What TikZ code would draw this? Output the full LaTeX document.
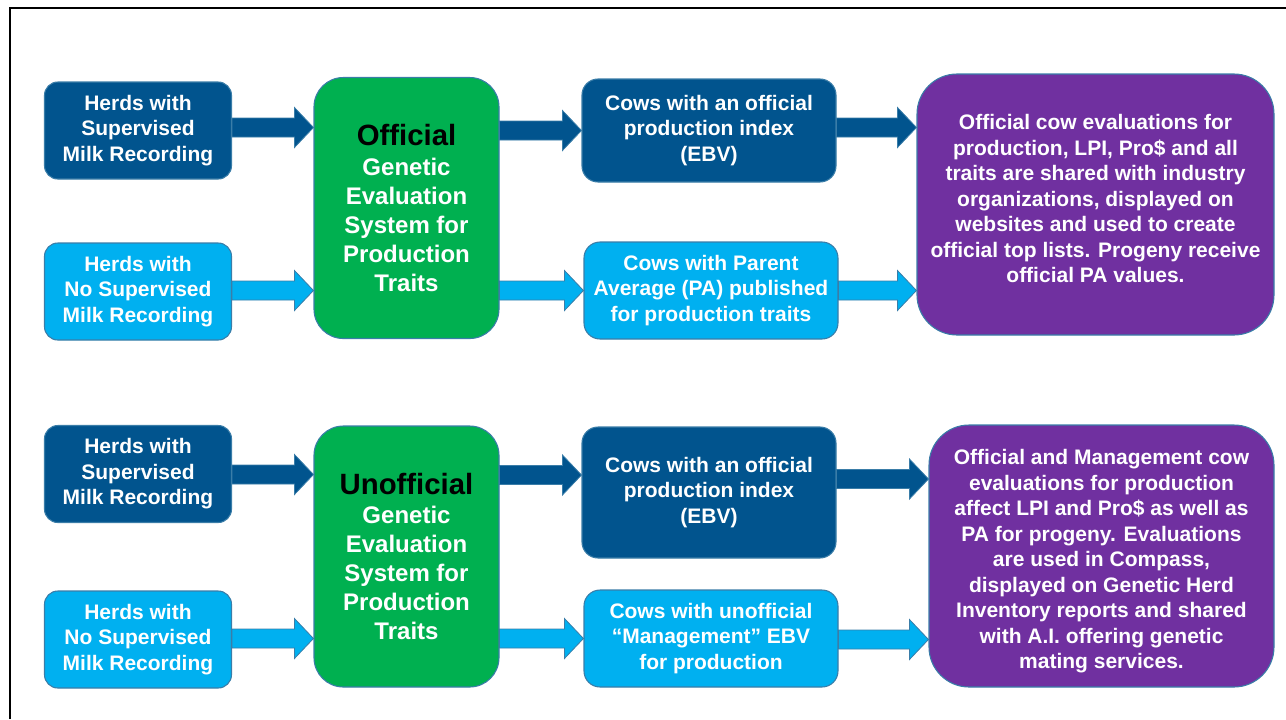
\documentclass[tikz,border=0pt]{standalone}
\usepackage{fontspec}
\setmainfont{Liberation Sans}
\usetikzlibrary{calc}
\definecolor{dblue}{HTML}{01548E}
\definecolor{lblue}{HTML}{00B0F0}
\definecolor{gbox}{HTML}{00B050}
\definecolor{pbox}{HTML}{7030A0}
\definecolor{edgec}{HTML}{3A7DA8}
\tikzset{
  box/.style={draw=edgec, line width=0.8pt, text=white, align=center, inner sep=0pt,
    font=\bfseries\fontsize{15.75}{19.1}\selectfont},
  sz/.style 2 args={minimum width=#1*0.75pt, minimum height=#2*0.75pt},
  herdbox/.style={box, sz={187}{97}, rounded corners=10pt},
  cowbox/.style={box, rounded corners=12pt},
  genbox/.style={box, fill=gbox, sz={185}{261}, rounded corners=22pt,
    font=\bfseries\fontsize{18}{21.75}\selectfont},
  resbox/.style={box, fill=pbox, rounded corners=30pt},
  arrbox/.style={draw=edgec, line width=0.6pt}
}
\newcommand\blockarr[4]{%
  \coordinate (s) at (#1.east |- 0,#3);
  \coordinate (t) at (#2.west |- 0,#3);
  \draw[arrbox, fill=#4] ($(s)+(0,-9.5)$) -- ($(t)+(-19,-9.5)$) -- ($(t)+(-19,-20)$) -- (t)
    -- ($(t)+(-19,20)$) -- ($(t)+(-19,9.5)$) -- ($(s)+(0,9.5)$) -- cycle;}
\begin{document}
\begin{tikzpicture}[x=0.75pt,y=-0.75pt]
\useasboundingbox (0,0) rectangle (1286,719);
\draw[line width=1.6pt] (10,719) -- (10,8) -- (1286,8);

% ---- top row ----
\node[herdbox, fill=dblue] (h1) at (138,130.5) {Herds with\\Supervised\\Milk Recording};
\node[herdbox, fill=lblue] (h2) at (138,291.5) {Herds with\\No Supervised\\Milk Recording};
\node[genbox] (g1) at (406.5,208) {\textcolor{black}{\fontsize{22}{24}\selectfont Official}\\[1pt]Genetic\\Evaluation\\System for\\Production\\Traits};
\node[cowbox, fill=dblue, sz={254}{103}] (c1) at (709,130.5) {Cows with an official\\production index\\(EBV)};
\node[cowbox, fill=lblue, sz={254}{97}] (c2) at (711,290.5) {Cows with Parent\\Average (PA) published\\for production traits};
\node[resbox, sz={357}{261}] (p1) at (1095.5,204.5) {Official cow evaluations for\\production, LPI, Pro\$ and all\\traits are shared with industry\\organizations, displayed on\\websites and used to create\\official top lists. Progeny receive\\official PA values.\rule[-8.7pt]{0pt}{0pt}};

% ---- bottom row ----
\node[herdbox, fill=dblue] (h3) at (138,474) {Herds with\\Supervised\\Milk Recording};
\node[herdbox, fill=lblue] (h4) at (138,639.5) {Herds with\\No Supervised\\Milk Recording};
\node[genbox] (g2) at (406.5,556.5) {\textcolor{black}{\fontsize{22}{24}\selectfont Unofficial}\\[0pt]Genetic\\Evaluation\\System for\\Production\\Traits};
\node[cowbox, fill=dblue, sz={254}{131}] (c3) at (709,492.5) {Cows with an official\\production index\\(EBV)};
\node[cowbox, fill=lblue, sz={254}{97}] (c4) at (711,638.5) {Cows with unofficial\\“Management” EBV\\for production};
\node[resbox, sz={345}{262}] (p2) at (1101.5,556) {\rule{0pt}{19.6pt}Official and Management cow\\evaluations for production\\affect LPI and Pro\$ as well as\\PA for progeny. Evaluations\\are used in Compass,\\displayed on Genetic Herd\\Inventory reports and shared\\with A.I. offering genetic\\mating services.};

% ---- arrows ----
\blockarr{h1}{g1}{127.5}{dblue}
\blockarr{h2}{g1}{290.5}{lblue}
\blockarr{g1}{c1}{130.5}{dblue}
\blockarr{g1}{c2}{290.5}{lblue}
\blockarr{c1}{p1}{127.5}{dblue}
\blockarr{c2}{p1}{290.5}{lblue}
\blockarr{h3}{g2}{474.5}{dblue}
\blockarr{h4}{g2}{638.5}{lblue}
\blockarr{g2}{c3}{475}{dblue}
\blockarr{g2}{c4}{638.5}{lblue}
\blockarr{c3}{p2}{479}{dblue}
\blockarr{c4}{p2}{639.5}{lblue}
\end{tikzpicture}
\end{document}
